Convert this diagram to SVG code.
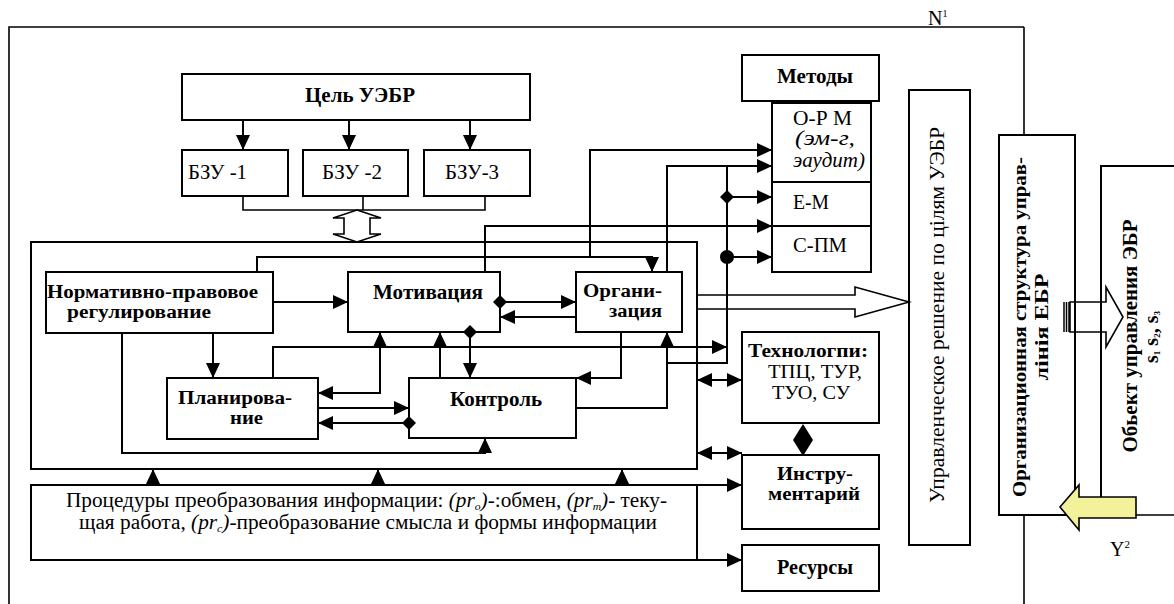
<svg xmlns="http://www.w3.org/2000/svg" width="1174" height="604" viewBox="0 0 1174 604" font-family="Liberation Serif, DejaVu Serif, serif">
<style>
.b{fill:#fff;stroke:#000;stroke-width:2}
.t{font-size:20px;fill:#000}
.s{font-size:18px}
.tb{font-weight:bold}
.i{font-style:italic}
.c{fill:none;stroke:#000;stroke-width:2}
.f{fill:none;stroke:#000;stroke-width:1.6}
.ae{marker-end:url(#ah)}
.as{marker-start:url(#ah)}
.ds{marker-start:url(#dm)}
</style>
<defs>
<marker id="ah" viewBox="0 0 15 14" refX="15" refY="7" markerWidth="15" markerHeight="14" markerUnits="userSpaceOnUse" orient="auto-start-reverse"><path d="M0,0L15,7L0,14z" fill="#000"/></marker>
<marker id="dm" viewBox="0 0 14 14" refX="7" refY="7" markerWidth="14" markerHeight="14" markerUnits="userSpaceOnUse" orient="auto"><path d="M0,7L7,0L14,7L7,14z" fill="#000"/></marker>
</defs>
<rect width="1174" height="604" fill="#fff"/>

<g id="frame">
<path class="f" d="M1024,27H9V604M1024,27V135M1024,515V604M1075,515H1174"/>
<text class="t" x="928" y="25" font-size="18">N<tspan font-size="10" dy="-8">1</tspan></text>
<text class="t" x="1110" y="556" font-size="19">Y<tspan font-size="11" dy="-8">2</tspan></text>
</g>

<g id="inner-frame"><rect class="b" x="31" y="242" width="666" height="227"/></g>

<g id="goal"><rect class="b" x="182" y="74" width="348" height="46"/><text class="t tb" x="305" y="102" textLength="110" lengthAdjust="spacingAndGlyphs">Цель УЭБР</text></g>
<g id="bzu1"><rect class="b" x="182" y="150" width="106" height="46"/><text class="t" x="188" y="179" textLength="59" lengthAdjust="spacingAndGlyphs">БЗУ -1</text></g>
<g id="bzu2"><rect class="b" x="303" y="150" width="105" height="46"/><text class="t" x="322" y="179" textLength="60" lengthAdjust="spacingAndGlyphs">БЗУ -2</text></g>
<g id="bzu3"><rect class="b" x="424" y="150" width="106" height="46"/><text class="t" x="445" y="179" textLength="54" lengthAdjust="spacingAndGlyphs">БЗУ-3</text></g>

<g id="norm"><rect class="b" x="46" y="272" width="227" height="61"/>
<text class="t s tb" x="47" y="298" textLength="211" lengthAdjust="spacingAndGlyphs">Нормативно-правовое</text>
<text class="t s tb" x="67" y="318" textLength="144" lengthAdjust="spacingAndGlyphs">регулирование</text></g>
<g id="motiv"><rect class="b" x="348" y="272" width="152" height="60"/><text class="t tb" x="373" y="299" textLength="110" lengthAdjust="spacingAndGlyphs">Мотивация</text></g>
<g id="org"><rect class="b" x="576" y="272" width="106" height="60"/><text class="t s tb" x="583" y="297" textLength="79" lengthAdjust="spacingAndGlyphs">Органи-</text><text class="t s tb" x="609" y="317" textLength="53" lengthAdjust="spacingAndGlyphs">зация</text></g>
<g id="plan"><rect class="b" x="167" y="378" width="151" height="61"/><text class="t s tb" x="178" y="404" textLength="114" lengthAdjust="spacingAndGlyphs">Планирова-</text><text class="t s tb" x="230" y="424" textLength="33" lengthAdjust="spacingAndGlyphs">ние</text></g>
<g id="kontrol"><rect class="b" x="409" y="378" width="167" height="60"/><text class="t tb" x="450" y="406" textLength="92" lengthAdjust="spacingAndGlyphs">Контроль</text></g>

<g id="proc"><rect class="b" x="31" y="485" width="666" height="75"/>
<text class="t" x="66" y="507" font-size="17" textLength="601" lengthAdjust="spacingAndGlyphs">Процедуры преобразования информации: <tspan class="i">(pr<tspan font-size="11" dy="3">o</tspan><tspan dy="-3">)</tspan></tspan>-:обмен, <tspan class="i">(pr<tspan font-size="11" dy="3">m</tspan><tspan dy="-3">)</tspan></tspan>- теку-</text>
<text class="t" x="79" y="529" font-size="17" textLength="578" lengthAdjust="spacingAndGlyphs">щая работа, <tspan class="i">(pr<tspan font-size="11" dy="3">c</tspan><tspan dy="-3">)</tspan></tspan>-преобразование смысла и формы информации</text></g>

<g id="methods"><rect class="b" x="742" y="55" width="137" height="46"/><text class="t tb" x="777" y="83" textLength="76" lengthAdjust="spacingAndGlyphs">Методы</text></g>
<g id="orm"><rect class="b" x="772" y="103" width="99" height="79"/><text class="t" x="793" y="125" font-size="18" textLength="59" lengthAdjust="spacingAndGlyphs">О-Р М</text><text class="t i" x="795" y="145" font-size="15" textLength="60" lengthAdjust="spacingAndGlyphs">(эм-г,</text><text class="t i" x="793" y="167" font-size="15" textLength="72" lengthAdjust="spacingAndGlyphs">эаудит)</text></g>
<g id="em"><rect class="b" x="772" y="182" width="99" height="44"/><text class="t" x="793" y="209" textLength="36" lengthAdjust="spacingAndGlyphs">Е-М</text></g>
<g id="spm"><rect class="b" x="772" y="226" width="99" height="46"/><text class="t" x="793" y="252" textLength="54" lengthAdjust="spacingAndGlyphs">С-ПМ</text></g>

<g id="tech"><rect class="b" x="742" y="332" width="137" height="91"/>
<text class="t s tb" x="748" y="357" textLength="120" lengthAdjust="spacingAndGlyphs">Технологпи:</text>
<text class="t s" x="768" y="378" textLength="94" lengthAdjust="spacingAndGlyphs">ТПЦ, ТУР,</text>
<text class="t s" x="772" y="399" textLength="78" lengthAdjust="spacingAndGlyphs">ТУО, СУ</text></g>
<g id="instr"><rect class="b" x="742" y="455" width="137" height="74"/><text class="t s tb" x="777" y="480" textLength="76" lengthAdjust="spacingAndGlyphs">Инстру-</text><text class="t s tb" x="768" y="500" textLength="92" lengthAdjust="spacingAndGlyphs">ментарий</text></g>
<g id="res"><rect class="b" x="742" y="545" width="137" height="46"/><text class="t tb" x="777" y="574" textLength="76" lengthAdjust="spacingAndGlyphs">Ресурсы</text></g>

<g id="decision"><rect class="b" x="909" y="90" width="61" height="455"/>
<text class="t" transform="rotate(-90 944 315)" x="944" y="315" text-anchor="middle" textLength="376" lengthAdjust="spacingAndGlyphs">Управленческое решение по цілям УЭБР</text></g>
<g id="orgstruct"><rect class="b" x="999" y="135" width="76" height="380"/>
<text class="t s tb" transform="rotate(-90 1026 327)" x="1026" y="327" text-anchor="middle" textLength="340" lengthAdjust="spacingAndGlyphs">Организационная структура управ-</text>
<text class="t s tb" transform="rotate(-90 1048 327)" x="1048" y="327" text-anchor="middle" textLength="107" lengthAdjust="spacingAndGlyphs">лінія  ЕБР</text></g>
<g id="object"><path class="b" d="M1176,166H1101V497"/>
<text class="t tb" transform="rotate(-90 1137 336)" x="1137" y="336" text-anchor="middle" font-size="19" textLength="233" lengthAdjust="spacingAndGlyphs">Обьект управления ЭБР</text>
<text class="t tb" transform="rotate(-90 1158 337)" x="1158" y="337" text-anchor="middle" font-size="14">s<tspan font-size="9" dy="2">1</tspan><tspan dy="-2"> s</tspan><tspan font-size="9" dy="2">2</tspan><tspan dy="-2">, s</tspan><tspan font-size="9" dy="2">3</tspan></text></g>

<g id="connectors">
<path class="c ae" d="M243,120V150"/>
<path class="c ae" d="M349,120V150"/>
<path class="c ae" d="M470,120V150"/>
<path class="f" d="M243,196V210H485V196M363,196V210"/>
<path class="c ae" d="M273,302H348"/>
<path class="c ae" d="M213,333V378"/>
<path class="c ae" d="M257,272V257H652V272"/>
<path class="c ae" d="M590,257V150H772"/>
<path class="c ae" d="M667,272V166H772"/>
<path class="c" d="M727,166V363H667"/>
<path class="c ds ae" d="M727,197H772"/>
<path class="c ae" d="M727,257H772"/>
<circle cx="727" cy="257" r="7" fill="#000"/>
<path class="c ae" d="M485,272V226H772"/>
<path class="c ae" d="M273,378V347H727"/>
<path class="c as ae" d="M380,332V393H318"/>
<path class="c ae" d="M440,378V332"/>
<path class="c ds ae" d="M470,332V378"/>
<path class="c ae" d="M318,408H409"/>
<path class="c ds ae" d="M409,423H318"/>
<path class="c ae" d="M122,333V453H485V438"/>
<path class="c ds ae" d="M500,302H576"/>
<path class="c ae" d="M576,317H500"/>
<path class="c ae" d="M621,332V378H576"/>
<path class="c ae" d="M576,408H667V332"/>
<path class="c as ae" d="M697,380H742"/>
<path class="c as ae" d="M697,453H742"/>
<path class="c ae" d="M697,485H742"/>
<path class="c ae" d="M697,560H742"/>
<path class="c ae" d="M153,485V469"/>
<path class="c ae" d="M378,485V469"/>
<path class="c ae" d="M622,485V469"/>
<polygon points="803,424 813,440 803,456 793,440" fill="#000"/>
<polygon class="f" fill="#fff" points="357,210 381,218 370,218 370,234 381,234 357,242 333,234 344,234 344,218 333,218"/>
<polygon class="f" fill="#fff" points="697,295 855,295 855,287 909,302 855,317 855,309 697,309"/>
<polygon class="f" fill="#fff" points="1070,302 1106,302 1106,287 1123,317 1106,347 1106,332 1070,332"/>
<path d="M1064,302V332M1066.5,302V332M1069,302V332" stroke="#000" stroke-width="1.5"/>
<polygon points="1060,507 1079,485 1079,497 1136,497 1136,518 1079,518 1079,530" fill="#f3f29a" stroke="#000" stroke-width="1.6"/>
</g>
</svg>
